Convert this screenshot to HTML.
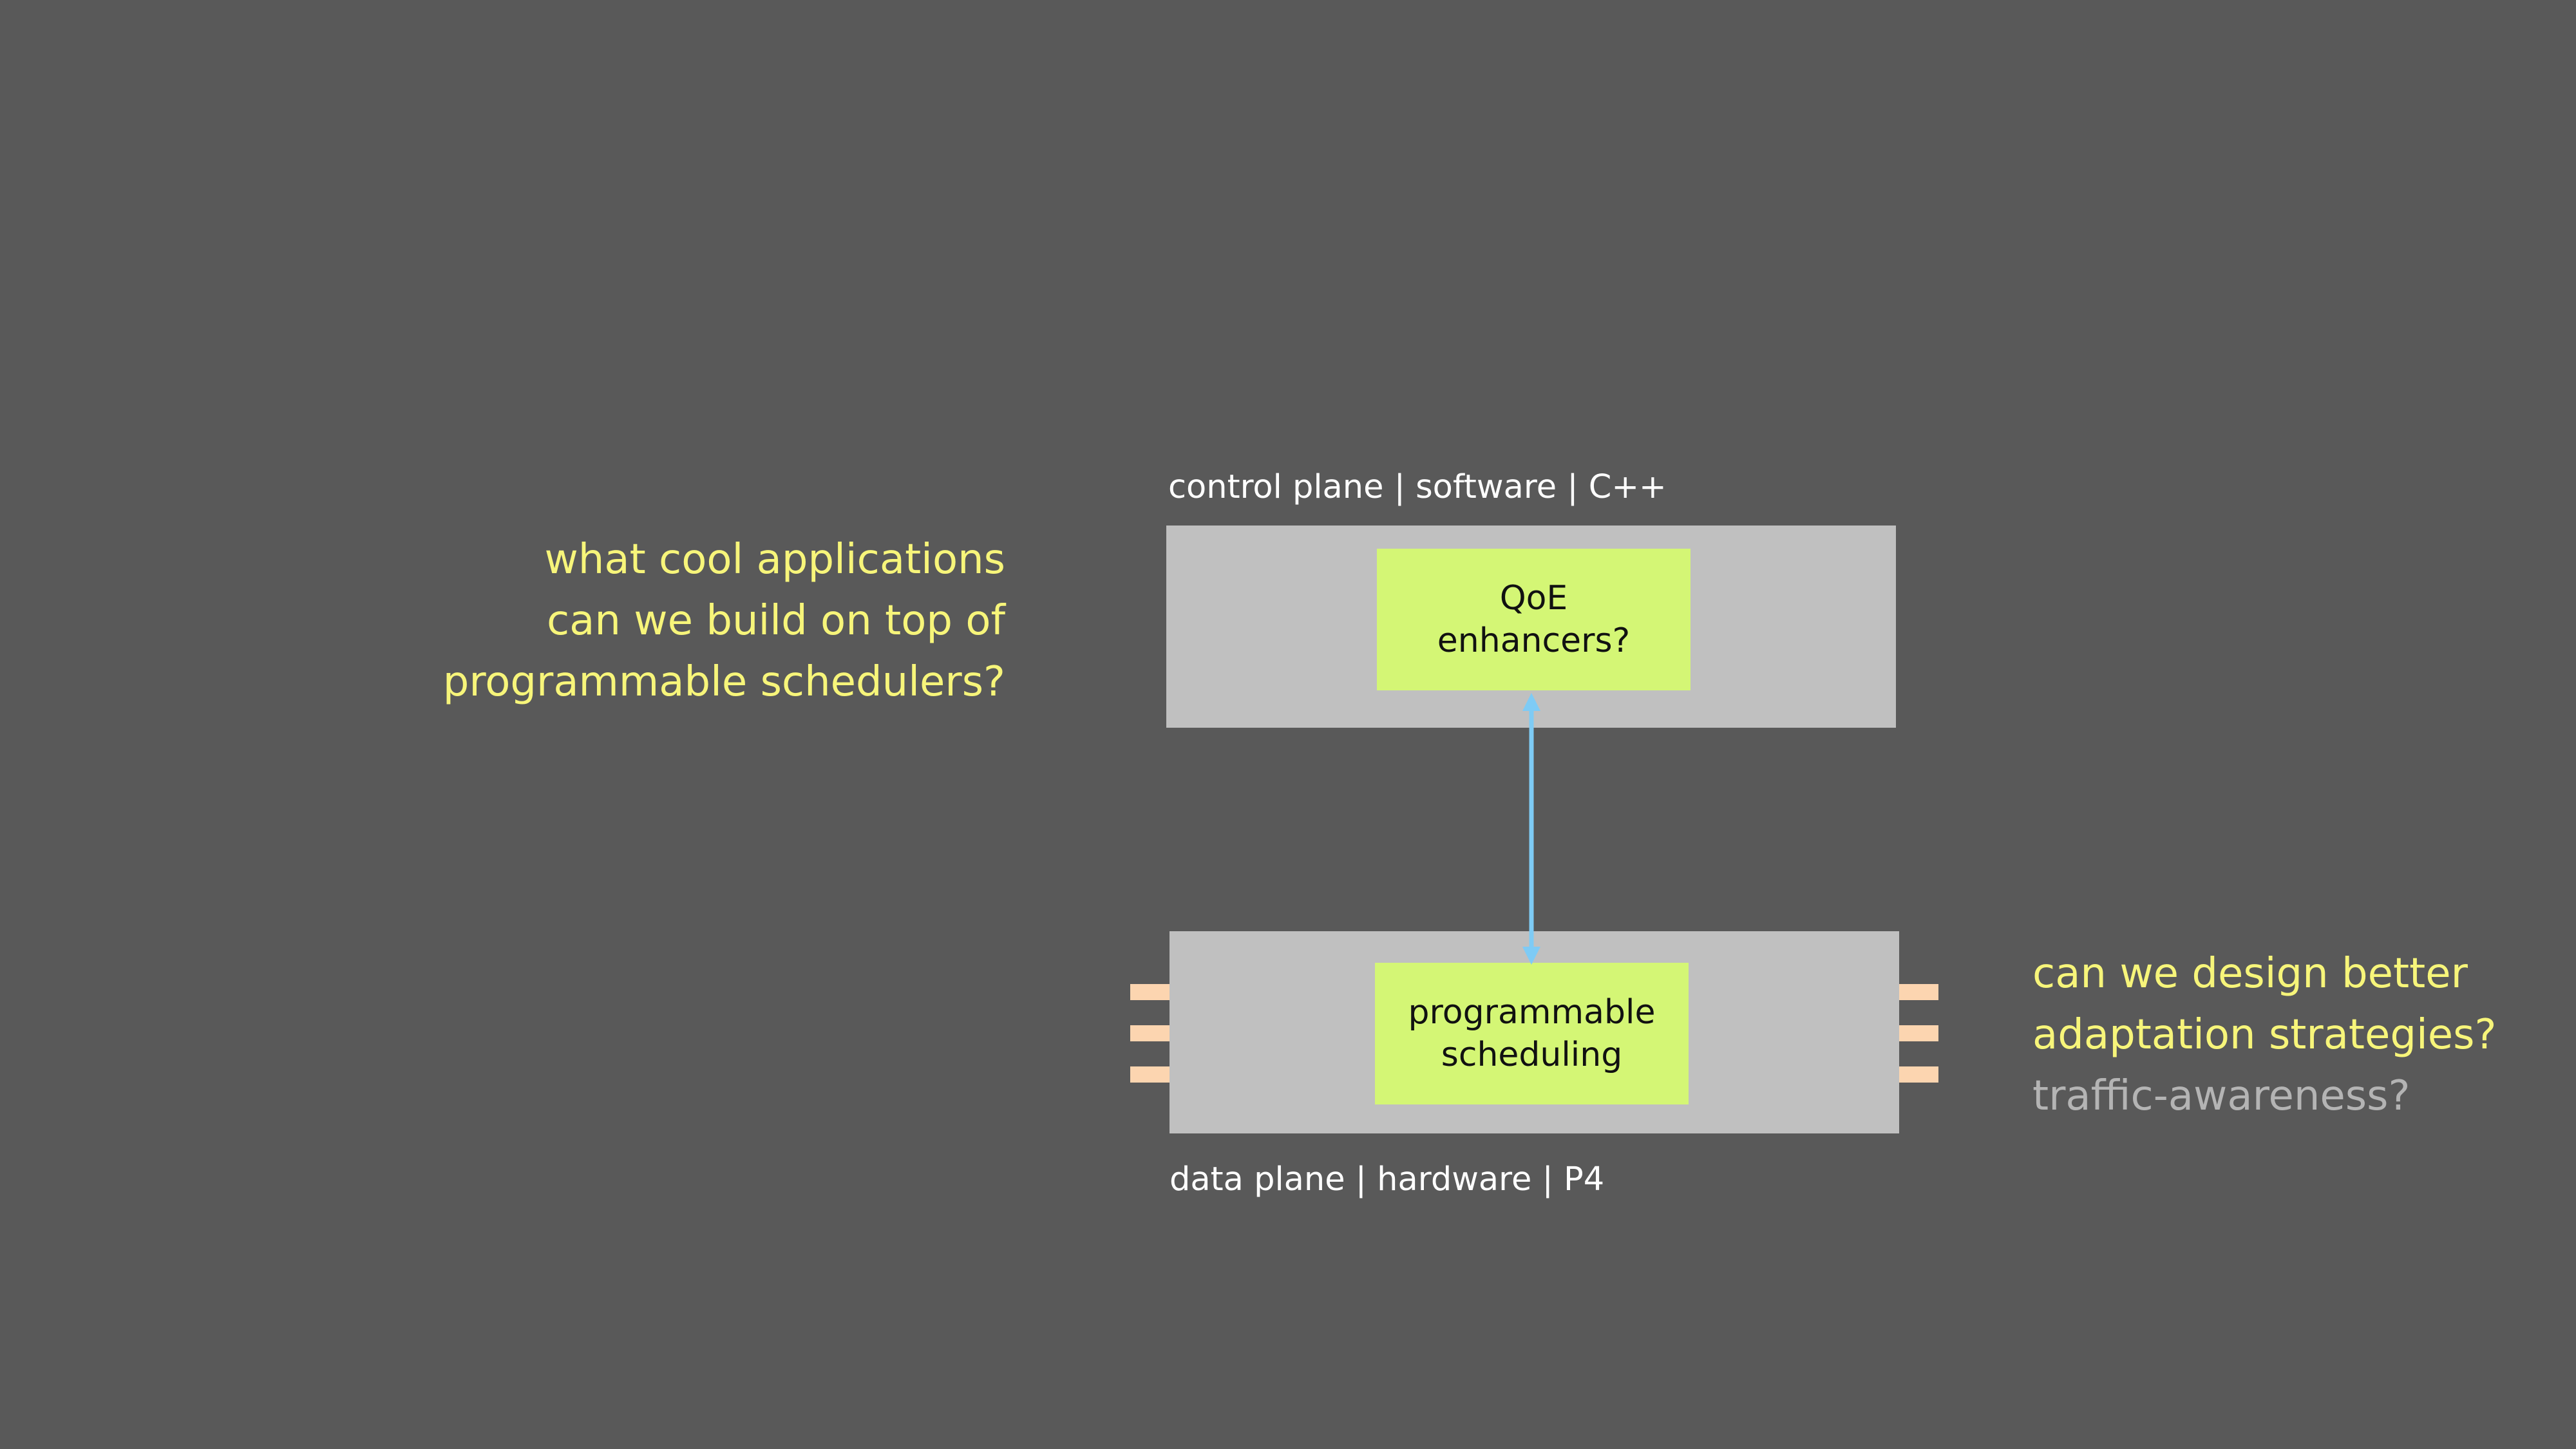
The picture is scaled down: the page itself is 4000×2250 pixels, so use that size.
<!DOCTYPE html>
<html><head><meta charset="utf-8"><style>
body{margin:0;width:4000px;height:2250px;background:#595959;position:relative;overflow:hidden;font-family:"DejaVu Sans","Liberation Sans",sans-serif}
div{position:absolute}
.box{background:#c0c0c0}
.g{background:#d4f675;display:flex;align-items:center;justify-content:center;text-align:center;color:#111;font-size:52px;line-height:66px}
.p{background:#fcd5b0;width:61px;height:25px}
.lbl{color:#fff;font-size:51px;white-space:nowrap}
.y{color:#f7f57a;font-size:64px;line-height:95px;white-space:nowrap}
</style></head><body>
<div class="lbl" style="left:1814px;top:727px">control plane | software | C++</div>
<div class="box" style="left:1811px;top:816px;width:1133px;height:314px"></div>
<div class="g" style="left:2138px;top:852px;width:487px;height:220px">QoE<br>enhancers?</div>
<div class="box" style="left:1816px;top:1446px;width:1133px;height:314px"></div>
<div class="g" style="left:2135px;top:1495px;width:487px;height:220px">programmable<br>scheduling</div>
<div class="p" style="left:1755px;top:1528px"></div>
<div class="p" style="left:1755px;top:1592px"></div>
<div class="p" style="left:1755px;top:1656px"></div>
<div class="p" style="left:2949px;top:1528px"></div>
<div class="p" style="left:2949px;top:1592px"></div>
<div class="p" style="left:2949px;top:1656px"></div>
<svg style="position:absolute;left:0;top:0" width="4000" height="2250">
<line x1="2378" y1="1100" x2="2378" y2="1475" stroke="#7ecbf5" stroke-width="7"/>
<polygon points="2378,1076 2364,1104 2392,1104" fill="#7ecbf5"/>
<polygon points="2378,1498 2364,1470 2392,1470" fill="#7ecbf5"/>
</svg>
<div class="lbl" style="left:1816px;top:1802px">data plane | hardware | P4</div>
<div class="y" style="right:2439px;top:822px;text-align:right">what cool applications<br>can we build on top of<br>programmable schedulers?</div>
<div class="y" style="left:3156px;top:1465px">can we design better<br>adaptation strategies?<br><span style="color:#b4b4b4">traffic-awareness?</span></div>
</body></html>
